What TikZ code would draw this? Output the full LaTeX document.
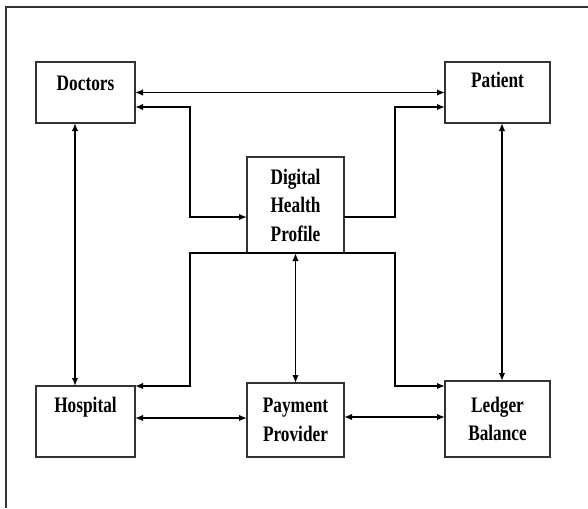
\documentclass[tikz,border=0pt]{standalone}
\usepackage{fontspec}
\setmainfont[FakeStretch=0.78]{Liberation Serif}
\usepackage{tikz}
\usetikzlibrary{arrows.meta,positioning,calc}

\begin{document}
\begin{tikzpicture}[>={Latex[length=1.6mm,width=1.3mm]},line width=1pt,
  box/.style={draw=black!80,line width=1pt,inner sep=0pt,outer sep=0pt,align=center,font=\fontsize{12.6}{16.2}\selectfont\bfseries},
  top/.style={box,anchor=north west}]
  \useasboundingbox (0,0) rectangle (11.76,-10.16);
  \draw[black!80,line width=1pt] (0.12,-10.16) |- (11.76,-0.14);
  % boxes
  \node[top,minimum width=1.98cm,text height=0.56cm,text depth=0.66cm](doc)at(0.72,-1.24){Doctors};
  \node[top,minimum width=2.10cm,text height=0.50cm,text depth=0.72cm](pat)at(8.90,-1.24){Patient};
  \node[top,minimum width=1.98cm,text height=0.52cm,text depth=0.90cm](hos)at(0.72,-7.72){Hospital};
  \node[box,minimum width=1.94cm,minimum height=1.92cm](dhp)at(5.91,-4.10){Digital\\Health\\Profile};
  \node[box,minimum width=1.94cm,minimum height=1.48cm](pay)at(5.91,-8.40){Payment\\Provider};
  \node[box,minimum width=2.10cm,minimum height=1.52cm](led)at(9.95,-8.38){Ledger\\Balance};
  % links
  \draw[<->] (doc.east) -- (pat.west);
  \draw[<->] ([yshift=-0.29cm]doc.east) -- ++(1.1,0) |- ([yshift=-0.24cm]dhp.west);
  \draw[->] ([yshift=-0.24cm]dhp.east) -- ++(1.02,0) |- ([yshift=-0.29cm]pat.west);
  \draw[<->] ([xshift=-0.21cm]doc.south) -- ([xshift=-0.21cm]hos.north);
  \draw[<->] ([xshift=0.09cm]pat.south) -- ([xshift=0.09cm]led.north);
  \draw[->] (dhp.south) -- ++(-2.11,0) |- (hos.north east);
  \draw[->] (dhp.south) -- ++(1.99,0) |- ([yshift=-0.10cm]led.north west);
  \draw[<->] (dhp.south) -- (pay.north);
  \draw[<->] ([yshift=0.07cm]hos.east) -- ([yshift=0.04cm]pay.west);
  \draw[<->] ([yshift=0.06cm]pay.east) -- ([yshift=0.04cm]led.west);
\end{tikzpicture}
\end{document}
